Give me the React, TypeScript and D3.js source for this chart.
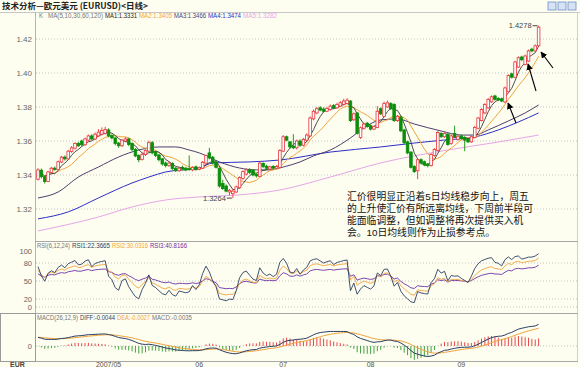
import React from 'react';
import * as d3 from 'd3';

// EUR/USD daily candles
const opens = [
  1.3375, 1.3428, 1.339, 1.3362, 1.3415, 1.344, 1.3432, 1.3476, 1.3505, 1.3495,
  1.3538, 1.3558, 1.3585, 1.36, 1.3578, 1.3605, 1.363, 1.3612, 1.363, 1.364,
  1.3645, 1.3665, 1.3632, 1.3618, 1.3588, 1.3572, 1.36, 1.3612, 1.3585, 1.355,
  1.3515, 1.3492, 1.352, 1.354, 1.359, 1.3535, 1.3518, 1.3495, 1.347, 1.3455,
  1.3468, 1.344, 1.3425, 1.3445, 1.344, 1.3438, 1.343, 1.3448, 1.3432, 1.344,
  1.347, 1.353, 1.3505, 1.3475, 1.344, 1.335, 1.3335, 1.33, 1.329, 1.33,
  1.3325, 1.338, 1.3405, 1.343, 1.3428, 1.3405, 1.3392, 1.3468, 1.3452, 1.3435,
  1.345, 1.344, 1.3445, 1.354, 1.3625, 1.3595, 1.357, 1.356, 1.36, 1.3575,
  1.3605, 1.363, 1.373, 1.3765, 1.3795, 1.3788, 1.3775, 1.3785, 1.3808, 1.3795,
  1.3805, 1.3815, 1.382, 1.3835, 1.3725, 1.3765, 1.362, 1.3675, 1.3705, 1.369,
  1.367, 1.368, 1.379, 1.3745, 1.38, 1.382, 1.3815, 1.372, 1.374, 1.3665,
  1.3595, 1.3535, 1.345, 1.3425, 1.349, 1.3478, 1.3465, 1.3455, 1.3515, 1.3545,
  1.3645, 1.3625, 1.364, 1.3585, 1.3645, 1.361, 1.363, 1.362, 1.361, 1.3595,
  1.362, 1.3675, 1.372, 1.3765, 1.3795, 1.383, 1.3865, 1.385, 1.3848, 1.383,
  1.389, 1.3995, 1.3975, 1.4035, 1.4094, 1.405, 1.407, 1.414, 1.413, 1.416,
];
const highs = [
  1.344, 1.3438, 1.3395, 1.3425, 1.3448, 1.345, 1.3485, 1.3512, 1.3515, 1.3548,
  1.357, 1.3592, 1.3595, 1.3608, 1.362, 1.3638, 1.364, 1.365, 1.367, 1.368,
  1.3683, 1.3675, 1.364, 1.3625, 1.3595, 1.3612, 1.3622, 1.3618, 1.3592, 1.3558,
  1.3522, 1.353, 1.3552, 1.3602, 1.36, 1.3542, 1.3525, 1.35, 1.348, 1.3478,
  1.3475, 1.3448, 1.3448, 1.3455, 1.3448, 1.3515, 1.3452, 1.3455, 1.345, 1.3482,
  1.352, 1.356, 1.3512, 1.3482, 1.3445, 1.3372, 1.3345, 1.3318, 1.3318, 1.3338,
  1.3392, 1.3428, 1.3438, 1.344, 1.3435, 1.341, 1.348, 1.3475, 1.346, 1.3455,
  1.3458, 1.3458, 1.3552, 1.3635, 1.3632, 1.36, 1.364, 1.3608, 1.361, 1.3618,
  1.3645, 1.3745, 1.3785, 1.38, 1.3805, 1.3798, 1.38, 1.3815, 1.3818, 1.3825,
  1.3835, 1.3848, 1.3852, 1.384, 1.3768, 1.377, 1.3685, 1.3708, 1.3712, 1.3698,
  1.3692, 1.3805, 1.3798, 1.3832, 1.3838, 1.3828, 1.3822, 1.3752, 1.3748, 1.3672,
  1.3602, 1.354, 1.3458, 1.3498, 1.3498, 1.3485, 1.347, 1.3528, 1.3558, 1.366,
  1.3652, 1.3652, 1.3648, 1.364, 1.369, 1.3635, 1.3638, 1.3628, 1.3618, 1.3632,
  1.3688, 1.3742, 1.3792, 1.3822, 1.3852, 1.3868, 1.3872, 1.3858, 1.3855, 1.392,
  1.3992, 1.4002, 1.4072, 1.4098, 1.4102, 1.4108, 1.4138, 1.4148, 1.4168, 1.4278,
];
const lows = [
  1.3368, 1.338, 1.335, 1.3358, 1.3405, 1.3425, 1.3428, 1.347, 1.3485, 1.349,
  1.353, 1.355, 1.3565, 1.357, 1.3572, 1.3598, 1.3605, 1.3605, 1.3625, 1.3632,
  1.3638, 1.3622, 1.361, 1.3575, 1.356, 1.3565, 1.3592, 1.357, 1.354, 1.3505,
  1.3475, 1.3485, 1.3512, 1.3535, 1.3522, 1.3505, 1.348, 1.3455, 1.3445, 1.3448,
  1.343, 1.3418, 1.342, 1.3428, 1.3422, 1.3425, 1.3422, 1.3425, 1.3428, 1.3435,
  1.3465, 1.3492, 1.3462, 1.3438, 1.3325, 1.3312, 1.3298, 1.328, 1.3264, 1.3295,
  1.3318, 1.3372, 1.3398, 1.3405, 1.3392, 1.3385, 1.3388, 1.344, 1.343, 1.3428,
  1.3432, 1.3435, 1.344, 1.3535, 1.3598, 1.3555, 1.3552, 1.355, 1.3565, 1.3568,
  1.36, 1.3625, 1.3722, 1.3758, 1.3775, 1.3768, 1.377, 1.3778, 1.3788, 1.379,
  1.38, 1.3808, 1.3815, 1.3712, 1.3718, 1.3638, 1.3612, 1.3668, 1.3678, 1.3662,
  1.3665, 1.3675, 1.3752, 1.374, 1.3795, 1.3782, 1.3712, 1.3712, 1.3652, 1.3582,
  1.3522, 1.3438, 1.3412, 1.3375, 1.3462, 1.3452, 1.3445, 1.345, 1.3508, 1.354,
  1.3618, 1.3618, 1.3572, 1.3578, 1.3618, 1.3602, 1.3608, 1.354, 1.3588, 1.359,
  1.3615, 1.367, 1.3715, 1.3758, 1.379, 1.3825, 1.3838, 1.3835, 1.3828, 1.3822,
  1.3885, 1.3968, 1.397, 1.403, 1.407, 1.4045, 1.4065, 1.4122, 1.4125, 1.4155,
];
const closes = [
  1.343, 1.339, 1.3362, 1.3418, 1.344, 1.3432, 1.3478, 1.3505, 1.3495, 1.354,
  1.356, 1.3585, 1.3572, 1.3578, 1.3612, 1.363, 1.3612, 1.364, 1.3652, 1.3662,
  1.3668, 1.363, 1.3618, 1.3585, 1.3572, 1.3605, 1.3612, 1.358, 1.355, 1.3512,
  1.349, 1.352, 1.3545, 1.359, 1.353, 1.3515, 1.349, 1.3465, 1.3455, 1.347,
  1.3438, 1.3425, 1.344, 1.3435, 1.343, 1.3432, 1.3445, 1.3432, 1.3442, 1.3475,
  1.3515, 1.35, 1.347, 1.3445, 1.3335, 1.332, 1.3305, 1.331, 1.3305, 1.333,
  1.3385, 1.342, 1.343, 1.3415, 1.34, 1.3395, 1.347, 1.345, 1.344, 1.3448,
  1.344, 1.345, 1.3545, 1.3625, 1.3605, 1.3565, 1.356, 1.36, 1.3575, 1.361,
  1.3635, 1.3735, 1.3775, 1.379, 1.3782, 1.3775, 1.3792, 1.3805, 1.3795, 1.3815,
  1.3825, 1.3835, 1.384, 1.372, 1.376, 1.3645, 1.3678, 1.37, 1.3685, 1.367,
  1.3685, 1.3775, 1.376, 1.382, 1.3825, 1.379, 1.372, 1.3745, 1.366, 1.359,
  1.353, 1.3445, 1.342, 1.349, 1.347, 1.346, 1.3455, 1.352, 1.355, 1.365,
  1.3625, 1.3645, 1.358, 1.363, 1.3625, 1.3628, 1.3615, 1.3605, 1.3595, 1.3625,
  1.368, 1.3735, 1.3785, 1.3815, 1.3845, 1.386, 1.3845, 1.3842, 1.3835, 1.3912,
  1.3985, 1.3975, 1.4065, 1.409, 1.4078, 1.41, 1.413, 1.413, 1.416, 1.427,
];

// longer moving averages (need history before the window): [candle index, value]
const ma30Pts: [number, number][] = [
  [0, 1.3265], [6, 1.33], [12, 1.3388], [18, 1.3447], [24, 1.3506], [30, 1.3547],
  [36, 1.3565], [41, 1.3565], [45, 1.3547], [48, 1.353], [54, 1.3477], [60, 1.3441],
  [65, 1.343], [69, 1.343], [73, 1.3447], [78, 1.3477], [82, 1.3512], [87, 1.3547],
  [93, 1.3618], [97, 1.3677], [102, 1.3724], [107, 1.373], [112, 1.37], [120, 1.3659],
  [126, 1.3635], [130, 1.3635], [134, 1.3665], [140, 1.3718], [145, 1.3765], [149, 1.3812],
];
const ma60Pts: [number, number][] = [
  [0, 1.3142], [9, 1.3183], [18, 1.3265], [28, 1.3353], [33, 1.3388], [38, 1.3418],
  [48, 1.3441], [52, 1.3471], [63, 1.3477], [72, 1.3488], [87, 1.3535], [102, 1.3565],
  [112, 1.3588], [121, 1.3606], [130, 1.3624], [137, 1.3665], [143, 1.3712], [149, 1.3765],
];
const ma120Pts: [number, number][] = [
  [0, 1.3071], [18, 1.3153], [28, 1.3212], [38, 1.3253], [48, 1.3271], [60, 1.3283],
  [72, 1.3312], [87, 1.3388], [102, 1.3471], [122, 1.3547], [137, 1.3594], [149, 1.3635],
];

const priceTicks = [1.42, 1.4, 1.38, 1.36, 1.34, 1.32];
const rsiTicks = [100, 80, 50, 20, 0];
const monthTicks: [number, string][] = [
  [21, '2007/05'], [48, '06'], [73, '07'], [99, '08'], [126, '09'],
];

const note = [
  '汇价很明显正沿着5日均线稳步向上，周五',
  '的上升使汇价有所远离均线，下周前半段可',
  '能面临调整，但如调整将再次提供买入机',
  '会。10日均线则作为止损参考点。',
];

const BG = '#fdfdf0';
const C5 = '#3a3a3a';
const C10 = '#f2a43c';
const C30 = '#4e3d6e';
const C60 = '#2f2fc8';
const C120 = '#e6a6e6';
const RED = '#e8343a';
const GREEN = '#0b8f0b';
const NUM = '"Liberation Sans", Arial, sans-serif';
const CJK = '"Noto Sans CJK SC", sans-serif';
// latin primary font keeps the line box tight, CJK glyphs fall back
const NOTE_FONT = '"Liberation Sans", "Noto Sans CJK SC", sans-serif';

function sma(n: number) {
  return closes.map((_, i) => {
    const s = closes.slice(Math.max(0, i - n + 1), i + 1);
    return d3.mean(s) as number;
  });
}

function rsi(n: number, seed: number) {
  let up = 0.003 * seed;
  let ab = 0.003;
  return closes.map((c, i) => {
    if (i > 0) {
      const d = c - closes[i - 1];
      up = (Math.max(d, 0) + (n - 1) * up) / n;
      ab = (Math.abs(d) + (n - 1) * ab) / n;
    }
    return (up / ab) * 100;
  });
}

function macd() {
  let e12 = 1.3395;
  let e26 = 1.334;
  let dea = 0.0055;
  const diff: number[] = [];
  const deas: number[] = [];
  const hist: number[] = [];
  closes.forEach((c) => {
    e12 = (2 * c + 11 * e12) / 13;
    e26 = (2 * c + 25 * e26) / 27;
    const df = e12 - e26;
    dea = (2 * df + 8 * dea) / 10;
    diff.push(df);
    deas.push(dea);
    hist.push(2 * (df - dea));
  });
  return { diff, deas, hist };
}

export default function App() {
  const n = closes.length;
  const x = d3.scaleLinear().domain([0, n - 1]).range([38, 538.6]);
  const yP = d3.scaleLinear().domain([1.32, 1.42]).range([209, 39]);
  const yR = d3.scaleLinear().domain([0, 100]).range([311, 251]);
  const yM = d3.scaleLinear().domain([-0.01, 0.02]).range([362, 314]);

  const ma5 = sma(5);
  const ma10 = sma(10);
  const r6 = rsi(6, 0.74);
  const r12 = rsi(12, 0.68);
  const r24 = rsi(24, 0.62);
  const m = macd();

  const series = (vals: number[], y: d3.ScaleLinear<number, number>) =>
    d3.line<number>().x((_, i) => x(i)).y((d) => y(d))(vals) || '';
  const anchors = (pts: [number, number][]) =>
    d3.line<[number, number]>().x((d) => x(d[0])).y((d) => yP(d[1])).curve(d3.curveMonotoneX)(pts) || '';

  const hiIdx = d3.maxIndex(highs);
  const loIdx = d3.minIndex(lows);

  // [text, colour, left, width]
  const legend = (items: [string, string, number, number][], y: number) =>
    items.map(([t, c, lx, w], k) => (
      <text key={k} x={lx} y={y} fontSize={6.6} fill={c} textLength={w} lengthAdjust="spacingAndGlyphs">{t}</text>
    ));

  return (
    <svg width={580} height={367} style={{ position: 'absolute', left: 0, top: 0 }} fontFamily={NUM}>
      <defs>
        <clipPath id="mainClip"><rect x={36} y={22} width={540} height={219} /></clipPath>
        <clipPath id="rsiClip"><rect x={36} y={249} width={540} height={64} /></clipPath>
        <clipPath id="macdClip"><rect x={36} y={314} width={540} height={48} /></clipPath>
        <marker id="ah" viewBox="0 0 10 10" refX="9" refY="5" markerWidth="6" markerHeight="6" orient="auto">
          <path d="M0,0 L10,5 L0,10 z" fill="#000" />
        </marker>
      </defs>
      <rect width={580} height={367} fill={BG} />

      {/* title bar */}
      <text x={2} y={9} fontSize={8.5} fontWeight="bold" fill="#222" fontFamily={CJK}>技术分析—欧元美元 (EURUSD)&lt;日线&gt;</text>
      <line x1={0} x2={580} y1={12.5} y2={12.5} stroke="#c8c8c8" />
      {[548, 558, 568].map((bx) => (
        <rect key={bx} x={bx} y={2} width={8} height={8} fill="#d6e3f5" stroke="#6f8fc8" strokeWidth={0.8} />
      ))}

      {/* frame */}
      <line x1={35.5} x2={35.5} y1={12} y2={362} stroke="#b4b4b4" />
      <line x1={577.5} x2={577.5} y1={12} y2={362} stroke="#d0d0d0" />
      <line x1={35} x2={578} y1={241.5} y2={241.5} stroke="#a8a8a8" />
      <line x1={0} x2={578} y1={313.5} y2={313.5} stroke="#a8a8a8" />
      <line x1={0} x2={578} y1={361.5} y2={361.5} stroke="#a8a8a8" />
      <rect x={0.5} y={313.5} width={35} height={48} fill="none" stroke="#9a9a9a" />

      {/* main legend */}
      {legend([
        ['K', '#777', 39, 4],
        ['MA(5,10,30,60,120)', '#777', 48, 55],
        ['MA1:1.3331', '#222', 105, 32],
        ['MA2:1.3405', C10, 139, 33],
        ['MA3:1.3466', C30, 174, 32],
        ['MA4:1.3474', C60, 208, 33],
        ['MA5:1.3282', C120, 243, 34],
      ], 18)}

      {/* price grid + ticks */}
      {priceTicks.map((t) => (
        <g key={t}>
          <line x1={36} x2={577} y1={yP(t)} y2={yP(t)} stroke="#c4c4c4" strokeDasharray="1,2" />
          <text x={32} y={yP(t) + 3} fontSize={8} fill="#666" textAnchor="end">{t.toFixed(2)}</text>
        </g>
      ))}

      <g clipPath="url(#mainClip)">
        <path d={anchors(ma120Pts)} fill="none" stroke={C120} strokeWidth={1} />
        <path d={anchors(ma60Pts)} fill="none" stroke={C60} strokeWidth={1} />
        <path d={anchors(ma30Pts)} fill="none" stroke={C30} strokeWidth={1} />
        <path d={series(ma10, yP)} fill="none" stroke={C10} strokeWidth={1} />
        <path d={series(ma5, yP)} fill="none" stroke={C5} strokeWidth={0.9} />
        {closes.map((c, i) => {
          const up = c >= opens[i];
          const col = up ? RED : GREEN;
          const top = yP(Math.max(c, opens[i]));
          const bot = yP(Math.min(c, opens[i]));
          return (
            <g key={i}>
              <line x1={x(i)} x2={x(i)} y1={yP(highs[i])} y2={yP(lows[i])} stroke={col} strokeWidth={0.9} />
              <rect x={x(i) - 1.3} y={top} width={2.6} height={Math.max(bot - top, 0.8)}
                fill={up ? '#fff' : col} stroke={col} strokeWidth={0.8} />
            </g>
          );
        })}
      </g>

      {/* high / low marks */}
      <text x={x(hiIdx) - 7} y={yP(highs[hiIdx]) + 2.5} fontSize={7.5} fill="#444" textAnchor="end">1.4278</text>
      <line x1={x(hiIdx) - 6} x2={x(hiIdx) - 1} y1={yP(highs[hiIdx])} y2={yP(highs[hiIdx])} stroke="#444" />
      <text x={x(loIdx) - 7} y={yP(lows[loIdx]) + 2.5} fontSize={7.5} fill="#444" textAnchor="end">1.3264</text>
      <line x1={x(loIdx) - 6} x2={x(loIdx) - 1} y1={yP(lows[loIdx])} y2={yP(lows[loIdx])} stroke="#444" />

      {/* arrows */}
      <line x1={516} y1={123} x2={508} y2={103} stroke="#000" strokeWidth={1.1} markerEnd="url(#ah)" />
      <line x1={536} y1={91} x2={528} y2={64} stroke="#000" strokeWidth={1.1} markerEnd="url(#ah)" />
      <line x1={553} y1={68} x2={541} y2={52} stroke="#000" strokeWidth={1.1} markerEnd="url(#ah)" />

      {/* commentary */}
      {note.map((t, k) => (
        <text key={k} x={347} y={200 + k * 12} fontSize={9.8} fill="#111" fontFamily={NOTE_FONT}>{t}</text>
      ))}

      {/* RSI */}
      {legend([
        ['RSI(6,12,24)', '#777', 37, 33],
        ['RSI1:22.3665', '#2b3f63', 72, 38],
        ['RSI2:30.0316', C10, 112, 36],
        ['RSI3:40.8166', '#6a33a8', 150, 37],
      ], 248)}
      {rsiTicks.map((t) => (
        <g key={t}>
          {t !== 100 && t !== 0 && (
            <line x1={36} x2={577} y1={yR(t)} y2={yR(t)} stroke="#c4c4c4" strokeDasharray="1,2" />
          )}
          <text x={32} y={yR(t) + (t === 0 ? -1 : 3)} fontSize={7.5} fill="#666" textAnchor="end">{t}</text>
        </g>
      ))}
      <line x1={36} x2={577} y1={307} y2={307} stroke="#c4c4c4" strokeDasharray="1,2" />
      <g clipPath="url(#rsiClip)">
        <path d={series(r24, yR)} fill="none" stroke="#6a33a8" strokeWidth={0.9} />
        <path d={series(r12, yR)} fill="none" stroke={C10} strokeWidth={0.9} />
        <path d={series(r6, yR)} fill="none" stroke="#2b3f63" strokeWidth={0.9} />
      </g>

      {/* MACD */}
      {legend([
        ['MACD(26,12,9)', '#777', 37, 41],
        ['DIFF:-0.0044', '#2b3f63', 80, 35],
        ['DEA:-0.0027', C10, 117, 33],
        ['MACD:-0.0035', '#777', 152, 40],
      ], 320)}
      <line x1={36} x2={577} y1={yM(0)} y2={yM(0)} stroke="#c4c4c4" strokeDasharray="1,2" />
      <text x={32} y={yM(0) + 3} fontSize={7.5} fill="#666" textAnchor="end">0</text>
      <g clipPath="url(#macdClip)">
        {m.hist.map((h, i) => (
          <line key={i} x1={x(i)} x2={x(i)} y1={yM(0)} y2={yM(h)} stroke={h >= 0 ? RED : '#2e9a2e'} strokeWidth={0.9} />
        ))}
        <path d={series(m.deas, yM)} fill="none" stroke={C10} strokeWidth={1} />
        <path d={series(m.diff, yM)} fill="none" stroke="#2b3f63" strokeWidth={1} />
      </g>

      {/* date axis */}
      <text x={10} y={367} fontSize={7} fontWeight="bold" fill="#444">EUR</text>
      {monthTicks.map(([i, label]) => (
        <text key={label} x={x(i)} y={367} fontSize={7} fill="#555" textAnchor="middle">{label}</text>
      ))}
    </svg>
  );
}
